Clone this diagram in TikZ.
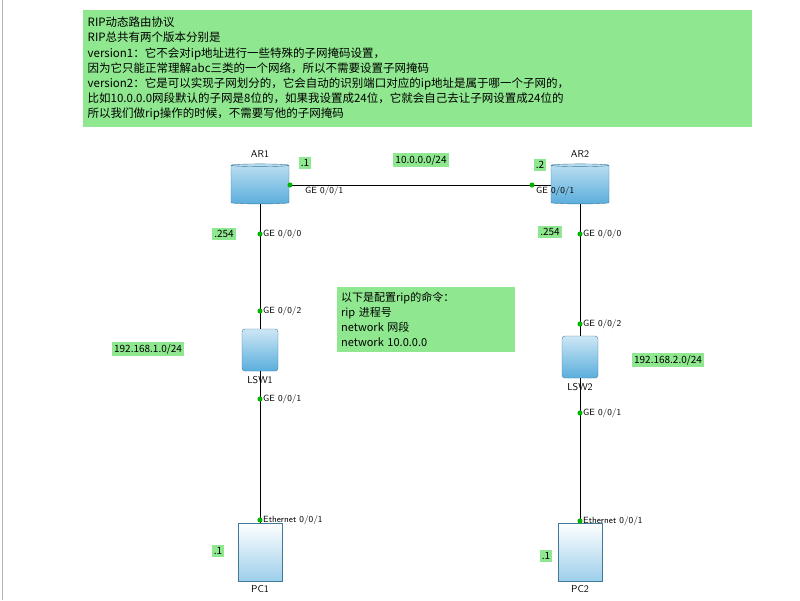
\documentclass[tikz,border=0pt]{standalone}
\usepackage{fontspec}
\newfontfamily\cjk{Noto Sans CJK SC}
\usetikzlibrary{positioning,shapes.geometric}
\definecolor{notegreen}{HTML}{8FE88F}
\definecolor{devblue}{HTML}{5AAEDD}
\tikzset{
   tag/.style={fill=notegreen,inner sep=2pt,font=\cjk\fontsize{10}{11}\selectfont},
   port/.style={font=\sffamily\fontsize{9}{10}\selectfont,inner sep=1pt},
   dev/.style={font=\sffamily\fontsize{10}{11}\selectfont},
   dot/.style={circle,fill=green!70!black,inner sep=1.8pt},
   router/.style={cylinder,shape border rotate=90,aspect=0.4,draw=devblue!70!black,
      top color=devblue!40,bottom color=devblue,minimum width=58pt,minimum height=40pt},
   switch/.style={rectangle,rounded corners=3pt,draw=devblue!70!black,
      top color=devblue!30,bottom color=devblue,minimum width=36pt,minimum height=42pt},
   pc/.style={rectangle,draw=devblue!70!black,top color=white,bottom color=devblue!60,
      minimum width=44pt,minimum height=58pt}
}
\begin{document}
\begin{tikzpicture}[x=1pt,y=-1pt]
   \useasboundingbox (0,0) rectangle (800,600);
   \draw [gray!60] (2,0) -- (2,600);
   % notes
   \node[fill=notegreen,anchor=north west,minimum width=669pt,minimum height=117pt,text width=660pt,
      align=left,inner sep=4pt,font=\cjk\fontsize{11.5}{15.2}\selectfont] (intro) at (83,10)
      {RIP动态路由协议\\
       RIP总共有两个版本分别是\\
       version1：它不会对ip地址进行一些特殊的子网掩码设置，\\
       因为它只能正常理解abc三类的一个网络，所以不需要设置子网掩码\\
       version2：它是可以实现子网划分的，它会自动的识别端口对应的ip地址是属于哪一个子网的，\\
       比如10.0.0.0网段默认的子网是8位的，如果我设置成24位，它就会自己去让子网设置成24位的\\
       所以我们做rip操作的时候，不需要写他的子网掩码};
   \node[fill=notegreen,anchor=north west,minimum width=178pt,minimum height=65pt,text width=170pt,
      align=left,inner sep=3pt,font=\cjk\fontsize{11}{15}\selectfont] (cmd) at (337,287)
      {以下是配置rip的命令：\\ rip 进程号\\ network 网段\\ network 10.0.0.0};
   % devices
   \node[router] (ar1) at (260,185) {};
   \node[router] (ar2) at (580,185) {};
   \node[switch] (lsw1) at (260,350) {};
   \node[switch] (lsw2) at (580,357) {};
   \node[pc] (pc1) at (260,552) {};
   \node[pc] (pc2) at (580,552) {};
   \node[dev,above=3pt of ar1] {AR1};
   \node[dev,above=3pt of ar2] {AR2};
   \node[dev,below=2pt of lsw1] {LSW1};
   \node[dev,below=2pt of lsw2] {LSW2};
   \node[dev,below=1pt of pc1] {PC1};
   \node[dev,below=1pt of pc2] {PC2};
   % links
   \draw (ar1.east) -- (ar2.west);
   \draw (ar1) -- (lsw1);
   \draw (lsw1) -- (pc1);
   \draw (ar2) -- (lsw2);
   \draw (lsw2) -- (pc2);
   \foreach \p in {(290,185),(532,185),(260,234),(260,311),(260,399),(260,520),
                   (580,234),(580,324),(580,413),(580,521)} {
      \node[dot] at \p {};
   }
   % port labels
   \node[port,anchor=west] at (304,191) {GE 0/0/1};
   \node[port,anchor=west] at (535,191) {GE 0/0/1};
   \node[port,anchor=west] at (262,234) {GE 0/0/0};
   \node[port,anchor=west] at (262,311) {GE 0/0/2};
   \node[port,anchor=west] at (262,399) {GE 0/0/1};
   \node[port,anchor=west] at (262,520) {Ethernet 0/0/1};
   \node[port,anchor=west] at (582,234) {GE 0/0/0};
   \node[port,anchor=west] at (582,324) {GE 0/0/2};
   \node[port,anchor=west] at (582,413) {GE 0/0/1};
   \node[port,anchor=west] at (582,521) {Ethernet 0/0/1};
   % addresses
   \node[tag] at (305,163) {.1};
   \node[tag] at (421,160) {10.0.0.0/24};
   \node[tag] at (540,165) {.2};
   \node[tag] at (224,234) {.254};
   \node[tag] at (550,232) {.254};
   \node[tag] at (148,349) {192.168.1.0/24};
   \node[tag] at (668,360) {192.168.2.0/24};
   \node[tag] at (218,551) {.1};
   \node[tag] at (546,556) {.1};
\end{tikzpicture}
\end{document}
